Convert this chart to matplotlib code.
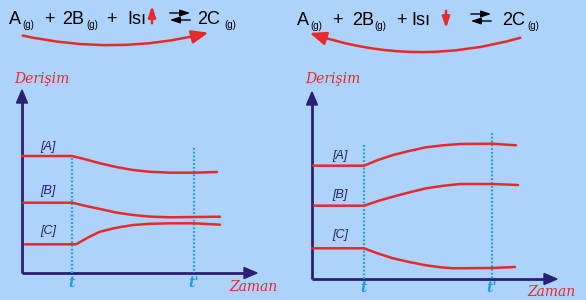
import matplotlib
matplotlib.use("Agg")
from matplotlib import pyplot as plt
from matplotlib.patches import FancyArrowPatch

# colours
bg = "#add3fa"
red = "#e62a2a"
navy = "#2a1f73"
blue = "#1f9be3"

# left panel (heat added: equilibrium shifts right)
left_a_x = [22, 72, 86, 100, 116, 133, 150, 170, 194, 217]
left_a_y = [156, 156, 159.5, 163.3, 167, 170, 171.8, 172.7, 172.7, 172]
left_b_x = [23, 72, 86, 100, 116, 133, 150, 170, 194, 220]
left_b_y = [202.7, 202.7, 206, 209, 212.5, 215, 216.6, 217.3, 217, 216.7]
left_c_x = [25, 76, 88, 100, 116, 133, 150, 170, 194, 220]
left_c_y = [244.3, 244.3, 237.5, 231.7, 227.8, 225, 223.8, 223.3, 223.3, 224.7]

# right panel (heat removed: equilibrium shifts left)
right_a_x = [313, 364, 378, 393, 410, 426, 443, 460, 492, 516]
right_a_y = [165.7, 165.7, 160, 155, 150.8, 147.3, 145.3, 144, 143.7, 145.3]
right_b_x = [314, 364, 378, 393, 410, 426, 443, 460, 492, 518]
right_b_y = [205.7, 205.7, 201, 196.7, 192.2, 188.3, 185.8, 184, 184, 185]
right_c_x = [312, 364, 378, 393, 410, 426, 440, 453, 492, 515]
right_c_y = [248.3, 248.3, 253.5, 258.3, 262.2, 265.3, 267.2, 268.3, 268, 267]

species = ["[A]", "[B]", "[C]"]

fig = plt.figure(figsize=(5.86, 3.0), dpi=100, facecolor=bg)
ax = fig.add_axes([0, 0, 1, 1])
ax.set_facecolor(bg)
ax.set_xlim(0, 586)
ax.set_ylim(300, 0)
ax.axis("off")


def panel(x0, xt, xt2, y_axis_top, x_axis_end, y0, t_top, t2_top, curves, label_x, label_y,
          der_x, zam_x, zam_y, t_y):
    # axes with arrow heads
    ax.plot([x0, x0], [y0, y_axis_top + 10], color=navy, lw=2, solid_capstyle="butt")
    ax.plot([x0, x_axis_end - 10], [y0, y0], color=navy, lw=2, solid_capstyle="butt")
    ax.fill([x0 - 5.5, x0 + 5.5, x0], [y_axis_top + 13, y_axis_top + 13, y_axis_top], color=navy)
    ax.fill([x_axis_end - 13, x_axis_end - 13, x_axis_end], [y0 - 5.5, y0 + 5.5, y0], color=navy)
    # dotted time lines
    ax.plot([xt, xt], [t_top, y0], color=blue, lw=1.6, ls=(0, (0.8, 0.9)))
    ax.plot([xt2, xt2], [t2_top, y0], color=blue, lw=1.6, ls=(0, (0.8, 0.9)))
    for (cx, cy) in curves:
        ax.plot(cx, cy, color=red, lw=1.8, solid_capstyle="round")
    for name, ly in zip(species, label_y):
        ax.text(label_x, ly, name, color=navy, fontsize=9, style="italic",
                family="Liberation Sans", ha="center", va="center")
    ax.text(der_x, 79, "Derişim", color=red, fontsize=10, style="italic",
            family="DejaVu Serif", ha="center", va="center")
    ax.text(zam_x, zam_y, "Zaman", color=red, fontsize=10, style="italic",
            family="DejaVu Serif", ha="center", va="center")
    ax.text(xt, t_y, "t", color=blue, fontsize=10, style="italic", weight="bold",
            family="DejaVu Serif", ha="center", va="center")
    ax.text(xt2, t_y, "t'", color=blue, fontsize=10, style="italic", weight="bold",
            family="DejaVu Serif", ha="center", va="center")


panel(22, 72, 194, 90, 257, 273, 158, 148,
      [(left_a_x, left_a_y), (left_b_x, left_b_y), (left_c_x, left_c_y)],
      48, [147, 191, 231], 42, 253, 287, 283)
panel(312, 364, 492, 92, 557, 279, 145, 133,
      [(right_a_x, right_a_y), (right_b_x, right_b_y), (right_c_x, right_c_y)],
      340, [156, 195, 235], 333, 551, 292, 288)


def equation(x_parts, base_y, sub_y):
    for x, s, sub in x_parts:
        if sub:
            ax.text(x, sub_y, s, fontsize=7, family="Liberation Sans", color="black",
                    ha="left", va="baseline")
        else:
            ax.text(x, base_y, s, fontsize=13, family="Liberation Sans", color="black",
                    ha="left", va="baseline")


equation([(9, "A", False), (22, "(g)", True), (44, "+", False), (62, "2B", False),
          (86, "(g)", True), (106, "+", False), (127, "Isı", False),
          (197, "2C", False), (224, "(g)", True)], 24, 28)
equation([(297, "A", False), (310, "(g)", True), (332, "+", False), (352, "2B", False),
          (374, "(g)", True), (396, "+", False), (411, "Isı", False),
          (502, "2C", False), (527, "(g)", True)], 25, 29)

# heat arrows
ax.annotate("", xy=(152, 3), xytext=(152, 26),
            arrowprops=dict(arrowstyle="-|>,head_width=0.22,head_length=0.65", color=red, lw=1.8))
ax.annotate("", xy=(446, 31), xytext=(446, 8),
            arrowprops=dict(arrowstyle="-|>,head_width=0.22,head_length=0.65", color=red, lw=1.8))

# equilibrium double arrows
for x1, x2 in [(167, 193), (468, 494)]:
    y_off = 0 if x1 < 300 else 1
    ax.annotate("", xy=(x2, 13 + y_off), xytext=(x1, 13 + y_off),
                arrowprops=dict(arrowstyle="-|>,head_width=0.2,head_length=0.6", color="black", lw=1))
    ax.annotate("", xy=(x1, 20 + y_off), xytext=(x2, 20 + y_off),
                arrowprops=dict(arrowstyle="-|>,head_width=0.2,head_length=0.6", color="black", lw=1))

# shift direction arrows
ax.add_patch(FancyArrowPatch((20, 35), (211, 32), connectionstyle="arc3,rad=0.12",
                             arrowstyle="-|>,head_width=4,head_length=10", color=red, lw=1.8))
ax.add_patch(FancyArrowPatch((523, 37), (307, 32), connectionstyle="arc3,rad=-0.16",
                             arrowstyle="-|>,head_width=4,head_length=10", color=red, lw=1.8))

fig.savefig("out.png", dpi=100, facecolor=bg)
